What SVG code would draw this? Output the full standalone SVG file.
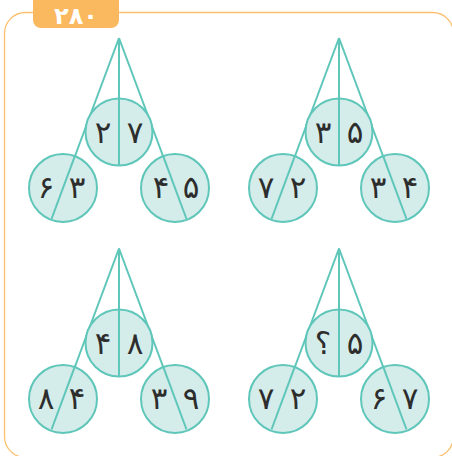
<svg xmlns="http://www.w3.org/2000/svg" width="452" height="456" viewBox="0 0 452 456">
<style>
.frame{fill:none;stroke:#fbbf6e;stroke-width:1.3}
.badge{fill:#fbb95f}
.badge-t{font-family:"DejaVu Sans","Noto Sans",sans-serif;font-weight:bold;font-size:24px;fill:#fff;text-anchor:middle}
.c{fill:#d4ecea;stroke:#5fc6ba;stroke-width:2}
.ln{stroke:#5fc6ba;stroke-width:2;fill:none}
.t{font-family:"DejaVu Sans","Noto Sans",sans-serif;font-size:31px;fill:#2d2d2d;text-anchor:middle}
</style>
<rect class="frame" x="4.5" y="12.5" width="449" height="445" rx="21"/>
<g id="badge">
<rect class="badge" x="33" y="-8" width="86" height="36" rx="8"/>
<text class="badge-t" x="76" y="24">۲۸۰</text>
</g>

<!-- Panel 1 -->
<g transform="translate(119,38)">
<g id="p1-connectors">
<path class="ln" d="M0,0 L-67.5,181 M0,0 L67.5,181"/>
</g>
<g id="p1-top"><circle class="c" cx="0" cy="94" r="33.5"/><line class="ln" x1="0" y1="0" x2="0" y2="127.5"/><text class="t" x="-16" y="105">۲</text><text class="t" x="16" y="105">۷</text></g>
<g id="p1-left"><circle class="c" cx="-56" cy="150" r="34"/><line class="ln" x1="-43.8" y1="117.2" x2="-67.5" y2="181"/><text class="t" x="-73" y="160">۶</text><text class="t" x="-42" y="160">۳</text></g>
<g id="p1-right"><circle class="c" cx="56" cy="150" r="34"/><line class="ln" x1="43.8" y1="117.2" x2="67.5" y2="181"/><text class="t" x="42" y="160">۴</text><text class="t" x="72" y="160">۵</text></g>
</g>

<!-- Panel 2 -->
<g transform="translate(339,38)">
<g id="p2-connectors">
<path class="ln" d="M0,0 L-67.5,181 M0,0 L67.5,181"/>
</g>
<g id="p2-top"><circle class="c" cx="0" cy="94" r="33.5"/><line class="ln" x1="0" y1="0" x2="0" y2="127.5"/><text class="t" x="-16" y="105">۳</text><text class="t" x="16" y="105">۵</text></g>
<g id="p2-left"><circle class="c" cx="-56" cy="150" r="34"/><line class="ln" x1="-43.8" y1="117.2" x2="-67.5" y2="181"/><text class="t" x="-73" y="160">۷</text><text class="t" x="-41" y="160">۲</text></g>
<g id="p2-right"><circle class="c" cx="56" cy="150" r="34"/><line class="ln" x1="43.8" y1="117.2" x2="67.5" y2="181"/><text class="t" x="39" y="160">۳</text><text class="t" x="71" y="160">۴</text></g>
</g>

<!-- Panel 3 -->
<g transform="translate(119,248.5)">
<g id="p3-connectors">
<path class="ln" d="M0,0 L-67.5,181 M0,0 L67.5,181"/>
</g>
<g id="p3-top"><circle class="c" cx="0" cy="94.5" r="33.5"/><line class="ln" x1="0" y1="0" x2="0" y2="128"/><text class="t" x="-16" y="105.5">۴</text><text class="t" x="16" y="105.5">۸</text></g>
<g id="p3-left"><circle class="c" cx="-56" cy="150.5" r="34"/><line class="ln" x1="-43.8" y1="117.2" x2="-67.5" y2="181"/><text class="t" x="-73" y="160.5">۸</text><text class="t" x="-42" y="160.5">۴</text></g>
<g id="p3-right"><circle class="c" cx="56" cy="150.5" r="34"/><line class="ln" x1="43.8" y1="117.2" x2="67.5" y2="181"/><text class="t" x="40" y="160.5">۳</text><text class="t" x="72" y="160.5">۹</text></g>
</g>

<!-- Panel 4 -->
<g transform="translate(339,248.5)">
<g id="p4-connectors">
<path class="ln" d="M0,0 L-67.5,181 M0,0 L67.5,181"/>
</g>
<g id="p4-top"><circle class="c" cx="0" cy="94.5" r="33.5"/><line class="ln" x1="0" y1="0" x2="0" y2="128"/><text class="t" x="-16" y="105.5">؟</text><text class="t" x="16" y="105.5">۵</text></g>
<g id="p4-left"><circle class="c" cx="-56" cy="150.5" r="34"/><line class="ln" x1="-43.8" y1="117.2" x2="-67.5" y2="181"/><text class="t" x="-73" y="160.5">۷</text><text class="t" x="-41" y="160.5">۲</text></g>
<g id="p4-right"><circle class="c" cx="56" cy="150.5" r="34"/><line class="ln" x1="43.8" y1="117.2" x2="67.5" y2="181"/><text class="t" x="40" y="160.5">۶</text><text class="t" x="71" y="160.5">۷</text></g>
</g>
</svg>
